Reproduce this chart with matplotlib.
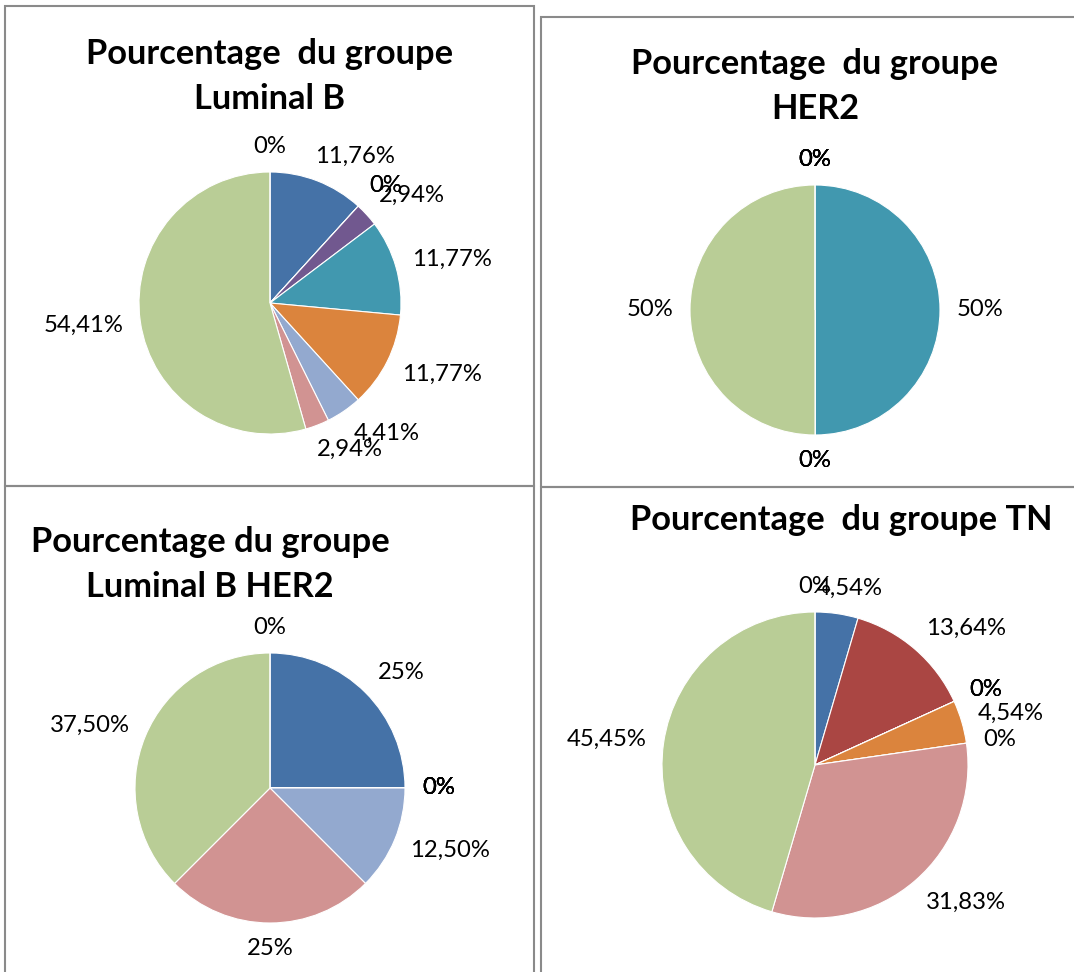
import matplotlib
matplotlib.use('Agg')
import matplotlib.pyplot as plt
from matplotlib.patches import Rectangle
import numpy as np

# ---------------- data ----------------
categories = ['Cat 1', 'Cat 2', 'Cat 3', 'Cat 4', 'Cat 5',
              'Cat 6', 'Cat 7', 'Cat 8', 'Cat 9', 'Cat 10']
luminal_b = [11.76, 0, 0, 2.94, 11.77, 11.77, 4.41, 2.94, 54.41, 0]
her2 = [0, 0, 0, 0, 50, 0, 0, 0, 50, 0]
luminal_b_her2 = [25, 0, 0, 0, 0, 0, 12.5, 25, 37.5, 0]
tn = [4.54, 13.64, 0, 0, 0, 4.54, 0, 31.83, 45.45, 0]

title_lumb = ['Pourcentage  du groupe', 'Luminal B']
title_her2 = ['Pourcentage  du groupe', 'HER2']
title_lumbher2 = ['Pourcentage du groupe', 'Luminal B HER2']
title_tn = ['Pourcentage  du groupe TN']

colors = ['#4572A7', '#AA4643', '#89A54E', '#71588F', '#4198AF',
          '#DB843D', '#93A9CF', '#D19392', '#B9CD96', '#A99BBD']

W, H = 1074, 972
FONT = 'Lato'

fig = plt.figure(figsize=(W / 100, H / 100), dpi=100)
ax = fig.add_axes([0, 0, 1, 1])
renderer = fig.canvas.get_renderer()


def py(y):
    """pixel-from-top -> data y"""
    return H - y


def text_size(s, size, weight):
    t = ax.text(0, 0, s, fontsize=size, fontweight=weight, family=FONT,
                ha='center', va='center')
    bb = t.get_window_extent(renderer)
    t.remove()
    return bb.width, bb.height


title_fs = 20 * 366 / text_size('Pourcentage  du groupe', 20, 'bold')[0]
label_fs = 14 * 80 / text_size('11,76%', 14, 'normal')[0]


def fmt(v):
    if v == 0:
        return '0%'
    if abs(v - round(v)) < 1e-9:
        return f'{v:.0f}%'
    return f'{v:.2f}%'.replace('.', ',')


def draw_pie(values, cx, cy, R, gap=17):
    cyd = py(cy)
    ax.pie(values, colors=colors, startangle=90, counterclock=False,
           center=(cx, cyd), radius=R,
           wedgeprops=dict(edgecolor='white', linewidth=0.8))
    total = float(sum(values))
    cum = 0.0
    for v in values:
        frac_mid = (cum + v / 2) / total
        cum += v
        theta = np.deg2rad(90 - 360 * frac_mid)
        c, s = np.cos(theta), np.sin(theta)
        txt = fmt(v)
        w, h = text_size(txt, label_fs, 'normal')
        fx = np.clip(c * 2.2, -1, 1)
        fy = np.clip(s * 1.414, -1, 1)
        d = R + gap
        x = cx + d * c + fx * w / 2
        y = cyd + d * s + fy * (h - 4) / 2
        ax.text(x, y, txt, fontsize=label_fs, family=FONT, color='black',
                ha='center', va='center')


def draw_title(lines, cx, baselines):
    for line, b in zip(lines, baselines):
        ax.text(cx, py(b), line, fontsize=title_fs, fontweight='bold',
                family=FONT, color='black', ha='center', va='baseline')


# panel borders
border = dict(fill=False, edgecolor='#8a8a8a', linewidth=1.5)
ax.add_patch(Rectangle((5, py(486)), 529, 480, **border))
ax.add_patch(Rectangle((541, py(487)), 600, 470, **border))
ax.add_patch(Rectangle((5, py(1100)), 529, 614, **border))
ax.add_patch(Rectangle((541, py(1100)), 600, 613, **border))

# pies
draw_pie(luminal_b, 270, 303, 131)
draw_pie(her2, 815, 310, 125)
draw_pie(luminal_b_her2, 270, 788, 135)
draw_pie(tn, 815, 765, 153)

# titles
draw_title(title_lumb, 270, [64, 109])
draw_title(title_her2, 815, [74, 119])
draw_title(title_lumbher2, 210, [552, 597])
draw_title(title_tn, 841, [530])

ax.set_xlim(0, W)
ax.set_ylim(0, H)
ax.set_aspect('equal')
ax.axis('off')

fig.savefig('out.png', dpi=100, facecolor='white')
